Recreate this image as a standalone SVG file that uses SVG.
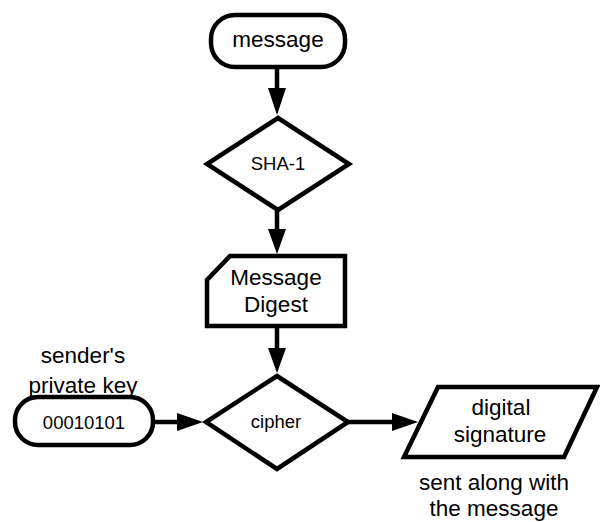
<svg xmlns="http://www.w3.org/2000/svg" width="600" height="522" viewBox="0 0 600 522">
<style>
.shape{fill:#fff;stroke:#000;stroke-width:4.5;stroke-linejoin:miter}
.line{fill:none;stroke:#000;stroke-width:4.5}
.head{fill:#000;stroke:none}
text{font-family:"Liberation Sans",Arial,sans-serif;fill:#000;text-anchor:middle}
.big{font-size:22.5px}
.small{font-size:18.5px}
</style>
<rect width="600" height="522" fill="#fff"/>
<g id="connectors">
<line class="line" x1="277" y1="67" x2="277" y2="90"/>
<polygon class="head" points="268,88 286,88 277,115"/>
<line class="line" x1="277" y1="210" x2="277" y2="231"/>
<polygon class="head" points="268,229 286,229 277,254"/>
<line class="line" x1="277" y1="326" x2="277" y2="350"/>
<polygon class="head" points="268,348 286,348 277,373"/>
<line class="line" x1="153" y1="422" x2="179" y2="422"/>
<polygon class="head" points="177,413 177,431 203,422"/>
<line class="line" x1="348" y1="422" x2="394" y2="422"/>
<polygon class="head" points="392,413 392,431 418,422"/>
</g>
<g id="message">
<rect class="shape" x="211" y="15" width="134" height="52" rx="24" ry="24"/>
<text class="big" x="278" y="47">message</text>
</g>
<g id="sha1">
<polygon class="shape" points="278,118 349,164 278,210 207,164"/>
<text class="small" x="278" y="170">SHA-1</text>
</g>
<g id="digest">
<path class="shape" d="M230,256 H345 V326 H207 V280 Z"/>
<text class="big" x="276" y="285">Message</text>
<text class="big" x="276" y="312">Digest</text>
</g>
<g id="cipher">
<polygon class="shape" points="277,376 348,422 277,469 206,422"/>
<text class="small" x="276" y="428">cipher</text>
</g>
<g id="key">
<text class="big" x="83" y="363">sender's</text>
<text class="big" x="83" y="393">private key</text>
<rect class="shape" x="15" y="397" width="138" height="48" rx="23" ry="23"/>
<text class="small" x="84" y="429">00010101</text>
</g>
<g id="signature">
<polygon class="shape" points="438,387 597,387 564,457 404,457"/>
<text class="big" x="501" y="415">digital</text>
<text class="big" x="500" y="442">signature</text>
<text class="big" x="494" y="490">sent along with</text>
<text class="big" x="494" y="516">the message</text>
</g>
</svg>
